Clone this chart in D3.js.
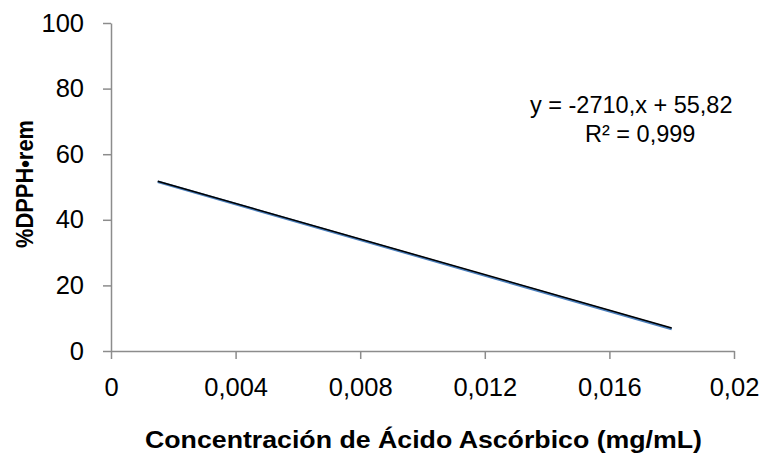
<!DOCTYPE html>
<html>
<head>
<meta charset="utf-8">
<script src="https://cdn.jsdelivr.net/npm/d3@7"></script>
<style>
  html, body { margin: 0; padding: 0; background: #fff; }
  svg { display: block; font-family: "Liberation Sans", Arial, sans-serif; }
  .axis path, .axis line { stroke: #8c8c8c; stroke-width: 1.5; }
  .axis text { fill: #000; font-size: 25.5px; }
</style>
</head>
<body>
<div id="chart"></div>
<script>
// datos
const concentracion = [0.0015, 0.018];
const dpphRem = [51.6, 6.7];
const xTicks = [0, 0.004, 0.008, 0.012, 0.016, 0.02];
const yTicks = [0, 20, 40, 60, 80, 100];
const pendiente = -2710;
const intercepto = 55.82;
const ecuacion = ['y = -2710,x + 55,82', 'R² = 0,999'];

const W = 766, H = 453;
const margin = { top: 23, right: 32, bottom: 102, left: 111 };
const width = W - margin.left - margin.right;
const height = H - margin.top - margin.bottom;

const svg = d3.select('#chart').append('svg')
  .attr('width', W)
  .attr('height', H);

const g = svg.append('g')
  .attr('transform', `translate(${margin.left},${margin.top})`);

const x = d3.scaleLinear().domain([0, 0.02]).range([0, width]);
const y = d3.scaleLinear().domain([0, 100]).range([height, 0]);

const coma = d => String(d).replace('.', ',');

// Ejes
g.append('g')
  .attr('class', 'axis')
  .attr('transform', `translate(0,${height})`)
  .call(d3.axisBottom(x).tickValues(xTicks).tickSize(8).tickSizeOuter(0).tickPadding(19).tickFormat(coma));

g.append('g')
  .attr('class', 'axis')
  .call(d3.axisLeft(y).tickValues(yTicks).tickSize(8).tickSizeOuter(0).tickPadding(19).tickFormat(coma));

g.selectAll('.axis text').attr('font-family', null).attr('font-size', null);

// Serie de datos
const datos = concentracion.map((c, i) => ({ c, v: dpphRem[i] }));
g.append('path')
  .datum(datos)
  .attr('fill', 'none')
  .attr('stroke', '#4a7ebb')
  .attr('stroke-width', 2.5)
  .attr('d', d3.line().x(d => x(d.c)).y(d => y(d.v)));

// Línea de tendencia
const extremos = d3.extent(concentracion);
g.append('path')
  .datum(extremos)
  .attr('fill', 'none')
  .attr('stroke', '#000')
  .attr('stroke-width', 1.5)
  .attr('d', d3.line().x(d => x(d)).y(d => y(intercepto + pendiente * d)));

// Ecuación
svg.append('text')
  .attr('x', 530).attr('y', 113)
  .attr('font-size', 23.5)
  .text(ecuacion[0]);
svg.append('text')
  .attr('x', 585).attr('y', 142)
  .attr('font-size', 23.5)
  .text(ecuacion[1]);

// Títulos de ejes
svg.append('text')
  .attr('x', 145).attr('y', 448)
  .attr('font-size', 24)
  .attr('font-weight', 'bold')
  .attr('textLength', 557)
  .attr('lengthAdjust', 'spacingAndGlyphs')
  .text('Concentración de Ácido Ascórbico (mg/mL)');

svg.append('text')
  .attr('transform', `translate(33,248) rotate(-90)`)
  .attr('font-size', 24)
  .attr('font-weight', 'bold')
  .attr('textLength', 128)
  .attr('lengthAdjust', 'spacingAndGlyphs')
  .text('%DPPH•rem');
</script>
</body>
</html>
